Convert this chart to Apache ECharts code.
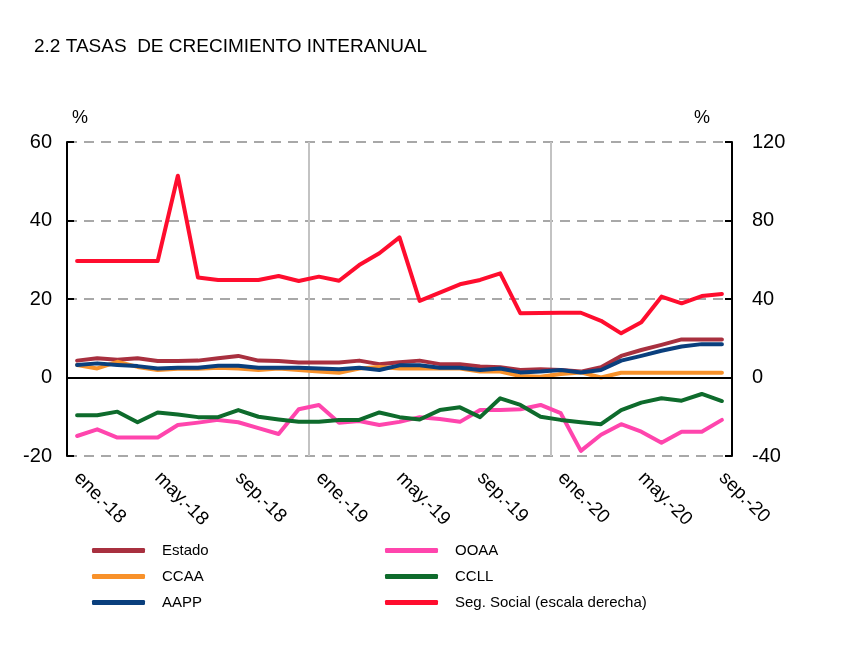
<!DOCTYPE html>
<html>
<head>
<meta charset="utf-8">
<script src="https://cdn.jsdelivr.net/npm/echarts@6/dist/echarts.min.js"></script>
<style>
  html, body { margin: 0; padding: 0; background: #fff; }
  #chart { width: 851px; height: 668px; }
</style>
</head>
<body>
<div id="chart"></div>
<script>
var months = ['ene.-18','feb.-18','mar.-18','abr.-18','may.-18','jun.-18','jul.-18','ago.-18','sep.-18','oct.-18','nov.-18','dic.-18',
              'ene.-19','feb.-19','mar.-19','abr.-19','may.-19','jun.-19','jul.-19','ago.-19','sep.-19','oct.-19','nov.-19','dic.-19',
              'ene.-20','feb.-20','mar.-20','abr.-20','may.-20','jun.-20','jul.-20','ago.-20','sep.-20'];

var estado = [4.3,4.9,4.5,4.9,4.2,4.2,4.3,4.9,5.5,4.3,4.2,3.8,3.8,3.8,4.3,3.4,3.9,4.3,3.4,3.4,2.8,2.6,1.9,2.1,1.9,1.5,2.6,5.5,7.0,8.3,9.7,9.7,9.7];
var ccaa   = [3.2,2.3,4.0,2.7,1.9,2.2,2.2,2.5,2.3,1.9,2.3,1.9,1.5,1.2,2.3,2.7,2.3,2.3,2.3,2.3,1.5,1.5,0.4,0.2,0.9,1.3,0.0,1.2,1.2,1.2,1.2,1.2,1.2];
var aapp   = [3.2,3.6,3.2,2.9,2.3,2.5,2.5,3.0,3.0,2.5,2.5,2.5,2.3,2.1,2.5,1.9,3.1,3.1,2.5,2.5,1.9,2.3,1.3,1.5,1.9,1.3,1.9,4.3,5.5,6.8,7.9,8.5,8.5];
var ooaa   = [-14.9,-13.2,-15.3,-15.3,-15.3,-12.1,-11.5,-10.8,-11.4,-12.9,-14.4,-8.1,-7.0,-11.5,-11.1,-12.1,-11.3,-10.1,-10.6,-11.3,-8.3,-8.3,-8.1,-7.0,-9.1,-18.7,-14.6,-11.9,-13.8,-16.6,-13.8,-13.8,-10.8];
var ccll   = [-9.6,-9.6,-8.7,-11.4,-8.9,-9.4,-10.1,-10.1,-8.3,-10.0,-10.7,-11.3,-11.3,-10.8,-10.8,-8.9,-10.1,-10.7,-8.3,-7.6,-10.1,-5.3,-7.0,-10.0,-10.8,-11.4,-11.9,-8.3,-6.4,-5.3,-5.9,-4.2,-6.0];
var segSocial = [59.4,59.4,59.4,59.4,59.4,102.8,50.9,49.7,49.7,49.7,51.7,49.2,51.4,49.3,57.3,63.3,71.4,39.0,43.2,47.5,49.7,53.1,32.7,32.9,33.0,33.0,28.9,22.5,28.1,41.2,37.8,41.5,42.6];

var leftTicks = [-20, 60, 20];   // min, max, interval
var rightTicks = [-40, 120, 40];

var colors = {
  'Estado': '#a8303f',
  'OOAA': '#ff45ad',
  'CCAA': '#f8912a',
  'CCLL': '#0e6b2c',
  'AAPP': '#0a3f7d',
  'Seg. Social (escala derecha)': '#ff0d2e'
};

function lineSeries(name, data, yIdx, extra) {
  var s = {
    name: name, type: 'line', data: data, yAxisIndex: yIdx,
    symbol: 'none', smooth: false,
    lineStyle: { width: 4, color: colors[name], cap: 'round', join: 'round' },
    itemStyle: { color: colors[name] }
  };
  if (extra) for (var k in extra) s[k] = extra[k];
  return s;
}

var chart = echarts.init(document.getElementById('chart'), null, { renderer: 'canvas' });
var font = 'Liberation Sans, Arial, sans-serif';

var legendCommon = {
  orient: 'vertical', itemWidth: 53, itemHeight: 5, itemGap: 11,
  icon: 'roundRect',
  textStyle: { fontFamily: font, fontSize: 15, color: '#000', padding: [0, 0, 0, 12] },
  selectedMode: false
};

chart.setOption({
  animation: false,
  backgroundColor: '#fff',
  title: {
    text: '2.2 TASAS  DE CRECIMIENTO INTERANUAL',
    left: 29, top: 32,
    textStyle: { fontFamily: font, fontSize: 19, fontWeight: 'normal', color: '#000' }
  },
  legend: [
    Object.assign({}, legendCommon, { data: ['Estado','CCAA','AAPP'], left: 87, top: 538 }),
    Object.assign({}, legendCommon, { data: ['OOAA','CCLL','Seg. Social (escala derecha)'], left: 380, top: 538 })
  ],
  graphic: [
    { type: 'text', left: 72, top: 109, style: { text: '%', fontFamily: font, fontSize: 18, fill: '#000' } },
    { type: 'text', left: 694, top: 109, style: { text: '%', fontFamily: font, fontSize: 18, fill: '#000' } }
  ],
  grid: { left: 67, right: 119, top: 142, bottom: 212, containLabel: false },
  xAxis: {
    type: 'category', data: months, boundaryGap: true,
    axisLine: { show: false },
    axisTick: { show: false },
    axisLabel: {
      interval: 3, rotate: -45, margin: 19,
      fontFamily: font, fontSize: 19, color: '#000'
    },
    splitLine: {
      show: true,
      interval: function (index) { return index === 12 || index === 24; },
      lineStyle: { color: '#c3c3c3', width: 2, type: 'solid' }
    }
  },
  yAxis: [
    {
      type: 'value', min: leftTicks[0], max: leftTicks[1], interval: leftTicks[2], position: 'left',
      axisLine: { show: true, lineStyle: { color: '#000', width: 2 } },
      axisTick: { show: true, inside: true, length: 7, lineStyle: { color: '#000', width: 2 } },
      axisLabel: { fontFamily: font, fontSize: 20, color: '#000', margin: 15 },
      splitLine: { show: true, lineStyle: { color: '#a8a8a8', width: 2, type: [10, 7] } }
    },
    {
      type: 'value', min: rightTicks[0], max: rightTicks[1], interval: rightTicks[2], position: 'right',
      axisLine: { show: true, lineStyle: { color: '#000', width: 2 } },
      axisTick: { show: true, inside: true, length: 7, lineStyle: { color: '#000', width: 2 } },
      axisLabel: { fontFamily: font, fontSize: 20, color: '#000', margin: 20 },
      splitLine: { show: false }
    }
  ],
  series: [
    lineSeries('Estado', estado, 0, {
      markLine: {
        silent: true, symbol: 'none', label: { show: false },
        lineStyle: { color: '#000', width: 2, type: 'solid' },
        data: [{ yAxis: 0 }]
      }
    }),
    lineSeries('CCAA', ccaa, 0),
    lineSeries('AAPP', aapp, 0),
    lineSeries('OOAA', ooaa, 0),
    lineSeries('CCLL', ccll, 0),
    lineSeries('Seg. Social (escala derecha)', segSocial, 1)
  ]
});
</script>
</body>
</html>
